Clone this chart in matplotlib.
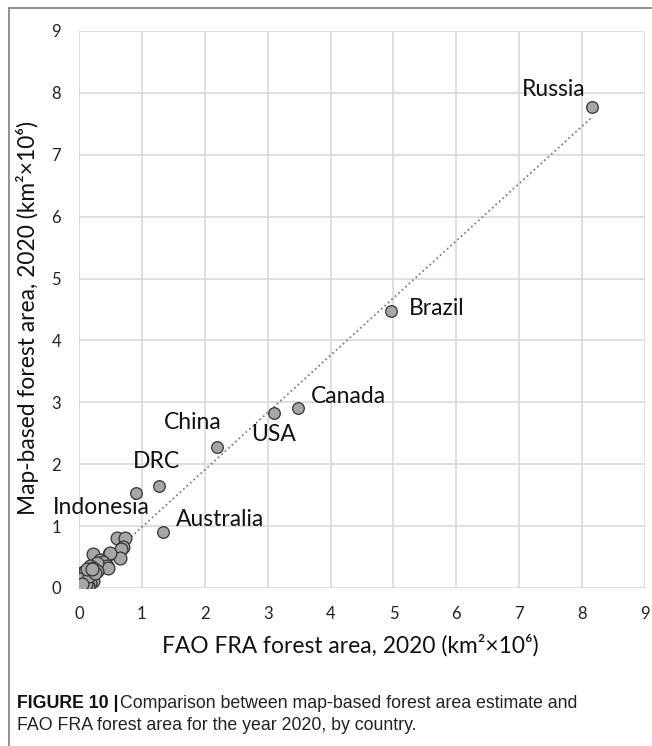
import numpy as np
import matplotlib
matplotlib.use('Agg')
import matplotlib.pyplot as plt
from matplotlib.lines import Line2D

plt.rcParams['font.family'] = ['Lato', 'DejaVu Sans']

# ── data: FAO FRA vs map-based forest area (km2 x 10^6) ──
named_countries = ['Russia', 'Brazil', 'Canada', 'USA', 'China', 'DRC', 'Indonesia', 'Australia']
named_fao = [8.15, 4.96, 3.48, 3.10, 2.19, 1.27, 0.91, 1.33]
named_map = [7.78, 4.47, 2.91, 2.83, 2.28, 1.65, 1.53, 0.91]

other_fao = [0.60, 0.73, 0.70, 0.66, 0.65, 0.47, 0.50, 0.23, 0.33, 0.38, 0.44, 0.46,
             0.28, 0.18, 0.22, 0.28, 0.04, 0.09, 0.13, 0.20, 0.22, 0.13, 0.18, 0.02,
             0.07, 0.00, 0.03, 0.05, 0.10, 0.15, 0.01, 0.02, 0.04, 0.06, 0.08, 0.11,
             0.03, 0.16, 0.25, 0.12, 0.20, 0.00, 0.01, 0.02, 0.04]
other_map = [0.81, 0.80, 0.67, 0.63, 0.49, 0.55, 0.57, 0.55, 0.45, 0.42, 0.36, 0.33,
             0.40, 0.36, 0.33, 0.28, 0.25, 0.27, 0.22, 0.18, 0.12, 0.13, 0.08, 0.02,
             0.05, 0.13, 0.08, 0.00, 0.02, 0.03, 0.01, 0.04, 0.02, 0.08, 0.12, 0.06,
             0.15, 0.20, 0.24, 0.30, 0.30, 0.00, 0.03, 0.00, 0.06]

# label offsets in pixels from each named point
label_offsets = [(-38, 17), (46, 3), (51, 11), (0, -22), (-24, 24), (-2, 24), (-35, -14), (57, 12)]

fao_all = np.array(named_fao + other_fao)
map_all = np.array(named_map + other_map)

fig = plt.figure(figsize=(6.52, 7.46), dpi=100)
ax = fig.add_axes([79 / 652, 1 - 588 / 746, 566 / 652, 557 / 746])

# linear trendline over the data range
slope, intercept = np.polyfit(fao_all, map_all, 1)
xs = np.array([fao_all.min(), fao_all.max()])
ax.plot(xs, slope * xs + intercept, color='#7f7f7f', lw=1.3, ls=(0, (1, 1.6)), zorder=2)

ax.scatter(other_fao, other_map, s=85, facecolor='#a6a6a6', edgecolor='#333333',
           linewidth=0.9, zorder=3)
ax.scatter(named_fao, named_map, s=70, facecolor='#a6a6a6', edgecolor='#333333',
           linewidth=0.9, zorder=4)

for name, xv, yv, off in zip(named_countries, named_fao, named_map, label_offsets):
    ax.annotate(name, xy=(xv, yv), xytext=off, textcoords='offset pixels',
                ha='center', va='center', fontsize=16.5, color='#111111')

ax.set_xlim(0, 9)
ax.set_ylim(0, 9)
ax.set_xticks(range(10))
ax.set_yticks(range(10))
ax.grid(True, color='#d9d9d9', lw=1.2)
ax.set_axisbelow(True)
for sp in ax.spines.values():
    sp.set_visible(False)
ax.tick_params(length=0, labelsize=12, colors='#222222')
ax.tick_params(axis='y', pad=13)
ax.tick_params(axis='x', pad=13)

fig.text(350 / 652, 1 - 645 / 746, 'FAO FRA forest area, 2020 (km²×10⁶)',
         ha='center', va='center', fontsize=16.4, color='#111111')
fig.text(28 / 652, 1 - 318 / 746, 'Map-based forest area, 2020 (km²×10⁶)',
         ha='center', va='center', rotation=90, fontsize=16.4, color='#111111')

# frame lines along left and top edge
fig.add_artist(Line2D([9 / 652, 9 / 652], [0, 1 - 8 / 746], transform=fig.transFigure,
                      color='#808080', lw=1.2))
fig.add_artist(Line2D([9 / 652, 1], [1 - 8 / 746, 1 - 8 / 746], transform=fig.transFigure,
                      color='#808080', lw=1.2))

# caption
cap_font = ['Liberation Sans Narrow', 'Liberation Sans', 'DejaVu Sans']
head = fig.text(17 / 652, 1 - 704 / 746, 'FIGURE 10 |', fontsize=12.8, fontweight='bold',
                family=cap_font, va='center', ha='left', color='#111111')
fig.canvas.draw()
bb = head.get_window_extent().transformed(fig.transFigure.inverted())
fig.text(bb.x1 + 1 / 652, 1 - 704 / 746,
         'Comparison between map-based forest area estimate and',
         fontsize=12.8, family=cap_font, va='center', ha='left', color='#222222')
fig.text(17 / 652, 1 - 726 / 746, 'FAO FRA forest area for the year 2020, by country.',
         fontsize=12.8, family=cap_font, va='center', ha='left', color='#222222')

fig.savefig('out.png', dpi=100, facecolor='white')
